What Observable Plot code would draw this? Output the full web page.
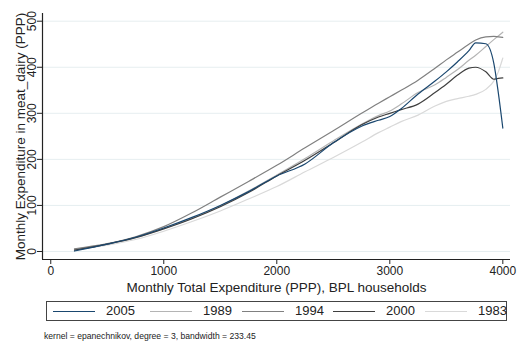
<!DOCTYPE html>
<html><head><meta charset="utf-8">
<script src="https://cdn.jsdelivr.net/npm/d3@7"></script>
<script src="https://cdn.jsdelivr.net/npm/@observablehq/plot@0.6"></script>
<style>
body{margin:0;background:#fff;font-family:"Liberation Sans",Arial,sans-serif;}
#wrap{position:relative;width:518px;height:344px;overflow:hidden;}
#chart{position:absolute;left:0;top:0;}
#legend{position:absolute;left:46px;top:301px;width:461px;height:20px;border:1px solid #444;box-sizing:border-box;background:#fff;}
.item{position:absolute;top:0;height:18px;}
.item .ln{position:absolute;top:9px;width:42px;height:0;border-top:1.2px solid;}
.item .tx{position:absolute;left:53px;top:0;font-size:13px;line-height:18px;color:#222;white-space:nowrap;}
#cap{position:absolute;left:44px;top:331px;font-size:8.6px;color:#222;white-space:nowrap;}
</style></head>
<body><div id="wrap"><div id="chart"></div><div id="legend"></div><div id="cap">kernel = epanechnikov, degree = 3, bandwidth = 233.45</div></div>
<script>
const expenditure = [210, 500, 750, 1000, 1250, 1500, 1750, 2000, 2250, 2500, 2750, 2900, 3000, 3100, 3250, 3400, 3500, 3600, 3700, 3760, 3850, 3920, 3960, 4000];
const y2005 = [1, 16, 31, 51, 74, 100, 130, 164, 190, 236, 272, 285, 293, 310, 342, 370, 390, 412, 436, 453, 451, 409, 345, 268];
const y1989 = [4, 16, 30, 50, 72, 99, 131, 166, 202, 240, 276, 295, 305, 320, 345, 362, 378, 395, 415, 426, 445, 460, 468, 476];
const y1994 = [6, 17, 32, 54, 84, 118, 152, 187, 225, 262, 300, 322, 336, 350, 372, 398, 416, 433, 450, 459, 466, 467, 466, 465];
const y2000 = [3, 16, 30, 49, 71, 97, 128, 164, 198, 236, 275, 292, 300, 308, 320, 345, 363, 383, 398, 400, 390, 374, 376, 377];
const y1983 = [5, 14, 26, 44, 65, 88, 114, 141, 173, 204, 237, 258, 270, 282, 296, 316, 326, 332, 337, 341, 352, 370, 390, 420];
const seriesNames = ["2005", "1989", "1994", "2000", "1983"];
const seriesColors = ["#1a476f", "#b4b4b4", "#808080", "#3f3f3f", "#d9d9d9"];
const xTicks = [0, 1000, 2000, 3000, 4000];
const yTicks = [0, 100, 200, 300, 400, 500];
const xLabel = "Monthly Total Expenditure (PPP), BPL households";
const yLabel = "Monthly Expenditure in meat_dairy (PPP)";

const valuesByName = {"2005": y2005, "1989": y1989, "1994": y1994, "2000": y2000, "1983": y1983};
const drawOrder = ["1983", "1989", "1994", "2000", "2005"];
const rows = [];
for (const name of drawOrder) {
  valuesByName[name].forEach((v, i) => rows.push({series: name, x: expenditure[i], y: v}));
}
const xDomain = [-73, 4068];
const yDomain = [-17.4, 516.7];
const font = '"Liberation Sans",Arial,sans-serif';

const chart = Plot.plot({
  width: 518, height: 300,
  marginLeft: 42, marginRight: 8, marginTop: 13, marginBottom: 41,
  style: {fontFamily: font, color: "#222", background: "#fff"},
  x: {domain: xDomain},
  y: {domain: yDomain},
  color: {domain: seriesNames, range: seriesColors},
  marks: [
    Plot.gridY(yTicks, {stroke: "#e6eef0", strokeOpacity: 1, strokeWidth: 1}),
    Plot.line(rows, {x: "x", y: "y", z: "series", stroke: "series", strokeWidth: 1.2, curve: "monotone-x"}),
    Plot.ruleY([yDomain[0]], {stroke: "#222", strokeWidth: 1.2}),
    Plot.ruleX([xDomain[0]], {stroke: "#222", strokeWidth: 1.2}),
    Plot.axisX(xTicks, {tickSize: 5, tickPadding: 2, fontSize: 12, tickFormat: d => String(d), label: null, stroke: "#222"}),
    Plot.axisY(yTicks, {tickSize: 5, tickFormat: () => "", label: null, stroke: "#222"}),
    Plot.text(yTicks, {y: d => d, frameAnchor: "left", dx: -10, rotate: -90, text: d => String(d), fontSize: 12, fill: "#222", textAnchor: "middle", lineAnchor: "middle"}),
    Plot.text([yLabel], {frameAnchor: "left", dx: -22, rotate: -90, text: d => d, fontSize: 13.5, fill: "#222", textAnchor: "middle", lineAnchor: "middle"}),
    Plot.text([xLabel], {frameAnchor: "bottom", dy: 28, text: d => d, fontSize: 13.5, fill: "#222", textAnchor: "middle", lineAnchor: "middle"})
  ]
});
document.getElementById("chart").appendChild(chart);

const legend = document.getElementById("legend");
const starts = [6, 103, 195, 286, 378];
seriesNames.forEach((name, i) => {
  const it = document.createElement("div");
  it.className = "item";
  it.style.left = starts[i] + "px";
  it.innerHTML = `<div class="ln" style="border-top-color:${seriesColors[i]}"></div><div class="tx">${name}</div>`;
  legend.appendChild(it);
});
</script></body></html>
